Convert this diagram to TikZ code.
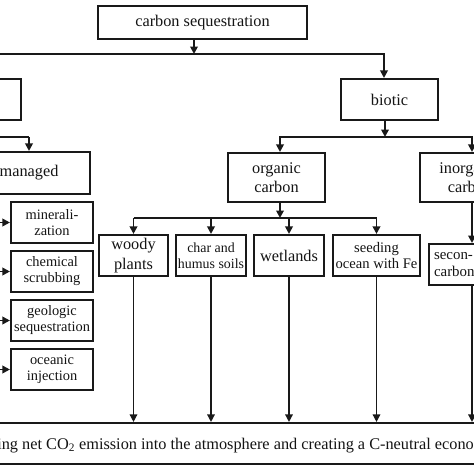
\documentclass[tikz,border=0pt]{standalone}
\usepackage{fontspec}
\setmainfont{Liberation Serif}
\usetikzlibrary{arrows.meta}
\begin{document}
\begin{tikzpicture}[x=1pt,y=-1pt,
  box/.style={draw=black!90, line width=2.1pt, fill=white, inner sep=2pt, align=center,
    text=black!92, font=\fontsize{16.3}{19.5}\selectfont},
  sbox/.style={box, font=\fontsize{14.4}{16}\selectfont},
  conn/.style={draw=black!90, line width=1.9pt},
  arr/.style={conn, -{Triangle[length=7.5pt,width=7.5pt]}},
  longarr/.style={arr, line width=1.4pt}]
\useasboundingbox (0,0) rectangle (474,474);
\clip (0,0) rectangle (474,474);
\fill[white] (0,0) rectangle (474,474);

% boxes
\node[box, minimum width=209pt, minimum height=33pt] (seq) at (202.5,22.5) {carbon sequestration};
\node[box, minimum width=101pt, minimum height=41pt] (abiotic) at (-29.5,99.5) {};
\node[box, minimum width=97pt, minimum height=41pt] (biotic) at (389.5,99.5) {biotic};
\node[box, minimum width=122pt, minimum height=42pt] (managed) at (29,173) {managed};
\node[box, minimum width=97pt, minimum height=49pt] (organic) at (276.5,177.5) {organic\\carbon};
\node[box, minimum width=100pt, minimum height=49pt] (inorganic) at (470,177.5) {inorganic\\carbon};

\node[sbox, minimum width=82pt, minimum height=41pt] (mineral) at (52,222.5) {minerali-\\zation};
\node[sbox, minimum width=82pt, minimum height=41pt] (chemical) at (52,271.5) {chemical\\scrubbing};
\node[sbox, minimum width=82pt, minimum height=41pt] (geologic) at (52,320.5) {geologic\\sequestration};
\node[sbox, minimum width=82pt, minimum height=41pt] (oceanic) at (52,369.5) {oceanic\\injection};

\node[box, minimum width=69pt, minimum height=41pt] (woody) at (133.5,255.5) {woody\\plants};
\node[sbox, font=\fontsize{13.9}{16}\selectfont, minimum width=70pt, minimum height=41pt] (char) at (211,255.5) {char and\\humus soils};
\node[box, minimum width=70pt, minimum height=41pt] (wetlands) at (289,255.5) {wetlands};
\node[sbox, font=\fontsize{14.6}{16}\selectfont, minimum width=87pt, minimum height=41pt] (seeding) at (376.5,255.5) {seeding\\ocean with Fe};

\node[sbox, font=\fontsize{14.9}{16.5}\selectfont, align=left, text width=76pt, inner xsep=5pt,
  minimum height=41pt, anchor=north west] (secon) at (428,243) {secon-\\carbonates};

\node[box, minimum width=640pt, minimum height=41pt] (goal) at (237,443.5) {};
\node[anchor=base west, inner sep=0pt, text=black!92, font=\fontsize{16.3}{19.5}\selectfont]
  (goaltext) at (22,449) {\llap{reducing }net CO\textsubscript{2} emission into the atmosphere and creating a C-neutral economy};

% connectors
\coordinate (j1) at (194,54);
\coordinate (xb) at (384,0);
\draw[arr] (seq.south -| j1) -- (j1);
\draw[arr] (j1) -| (abiotic.north);
\draw[arr] (j1) -| (biotic.north -| xb);

\coordinate (j2) at (29,137);
\draw[conn] (abiotic.south) |- (j2);
\draw[arr] (j2) -- (managed.north);

\coordinate (sp) at (-14,0);
\draw[conn] (managed.south -| sp) -- (oceanic.west -| sp);
\foreach \n in {mineral,chemical,geologic,oceanic}
  \draw[arr] (\n.west -| sp) -- (\n.west);

\coordinate (j3) at (385,137);
\coordinate (xo) at (280,0);
\coordinate (xi) at (472,0);
\draw[arr] (biotic.south -| j3) -- (j3);
\draw[arr] (j3) -| (organic.north -| xo);
\draw[arr] (j3) -| (inorganic.north -| xi);
\draw[arr] (inorganic.south -| xi) -- (secon.north -| xi);
\draw[longarr] (secon.south -| xi) -- (goal.north -| xi);

\coordinate (j4) at (280,218);
\draw[arr] (organic.south -| j4) -- (j4);
\draw[conn] (woody.north |- j4) -- (seeding.north |- j4);
\foreach \n in {woody,char,wetlands,seeding}{
  \draw[arr] (\n.north |- j4) -- (\n.north);
  \draw[longarr] (\n.south) -- (\n.south |- goal.north);
}
\end{tikzpicture}
\end{document}
